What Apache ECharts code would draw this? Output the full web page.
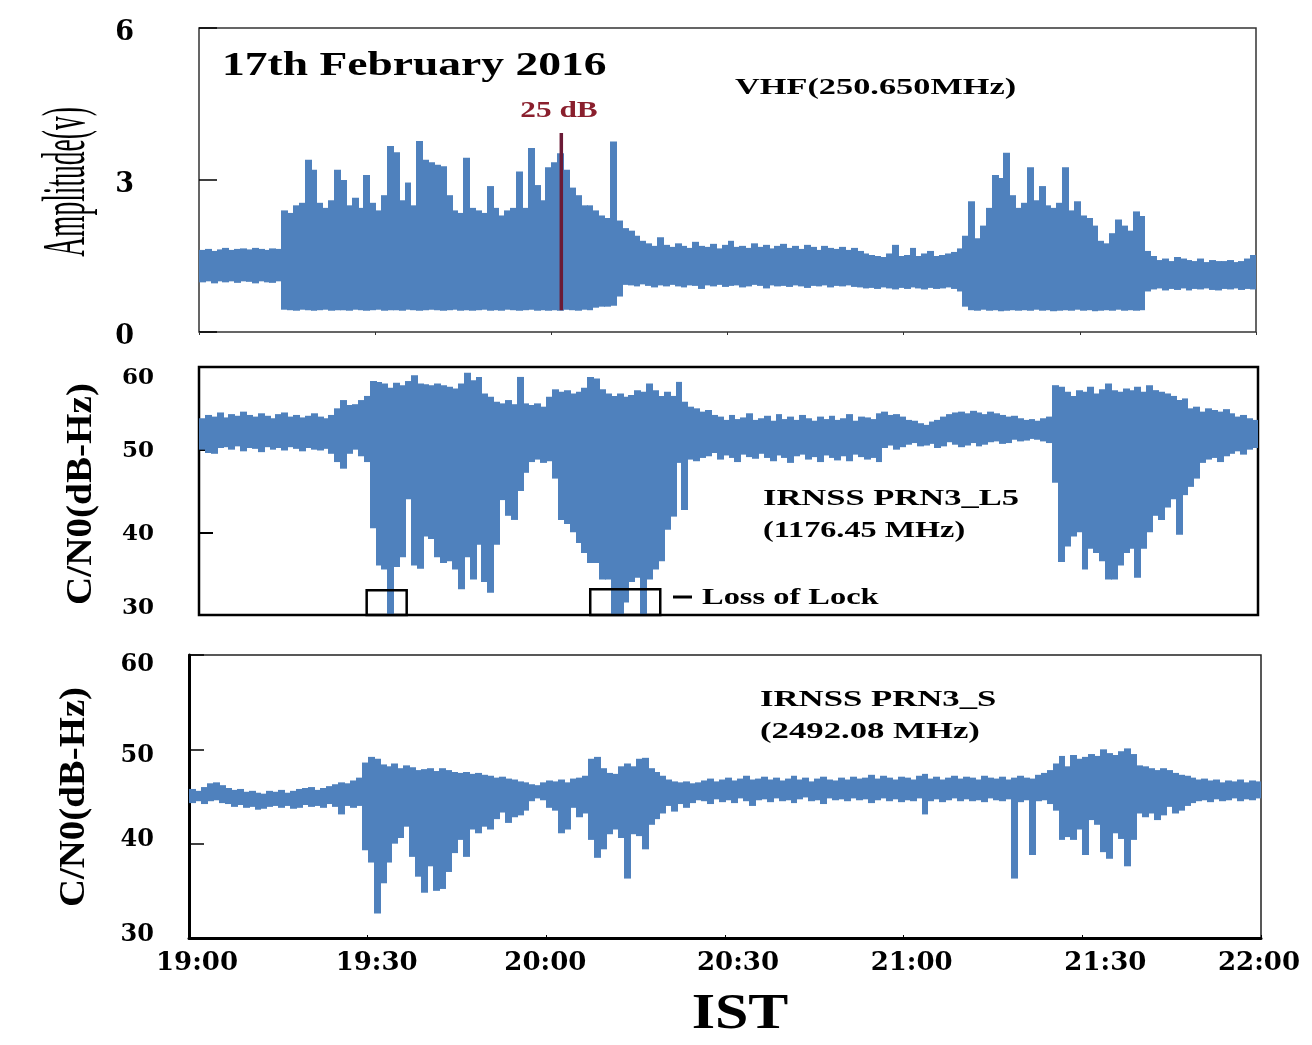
<!DOCTYPE html>
<html>
<head>
<meta charset="utf-8">
<title>17th February 2016 - VHF and IRNSS C/N0</title>
<script src="https://cdn.jsdelivr.net/npm/echarts@6/dist/echarts.min.js"></script>
<style>
  html, body { margin: 0; padding: 0; background: #fff; }
  #chart { width: 1312px; height: 1045px; }
</style>
</head>
<body>
<div id="chart"></div>
<script>
// x = minutes after 19:00 IST, one bin per minute (0..179)
const timeLabels = ['19:00', '19:30', '20:00', '20:30', '21:00', '21:30', '22:00'];

// VHF (250.650 MHz) amplitude, upper / lower envelope per minute (V)
const vhfHi = [
  1.62,1.64,1.60,1.63,1.66,1.62,1.64,1.65,1.63,1.66,
  1.64,1.62,1.65,1.64,2.40,2.35,2.50,2.55,3.40,3.20,
  2.55,2.45,2.60,3.20,3.00,2.50,2.65,2.45,3.10,2.55,
  2.40,2.70,3.67,3.55,2.60,2.95,2.50,3.77,3.40,3.35,
  3.30,3.27,2.70,2.40,2.35,3.44,2.45,2.40,2.35,2.88,
  2.45,2.30,2.40,2.45,3.17,2.45,3.63,2.90,2.60,3.25,
  3.35,3.53,3.20,2.85,2.70,2.50,2.50,2.40,2.30,2.25,
  3.76,2.20,2.05,2.00,1.90,1.80,1.75,1.70,1.87,1.72,
  1.68,1.75,1.70,1.66,1.78,1.70,1.68,1.74,1.65,1.72,
  1.80,1.68,1.70,1.66,1.75,1.68,1.72,1.65,1.70,1.74,
  1.66,1.70,1.64,1.72,1.68,1.62,1.70,1.66,1.64,1.68,
  1.62,1.66,1.60,1.55,1.52,1.50,1.48,1.55,1.72,1.50,
  1.52,1.66,1.50,1.55,1.60,1.50,1.52,1.55,1.58,1.65,
  1.90,2.58,1.85,2.10,2.45,3.10,3.04,3.54,2.70,2.45,
  2.55,3.25,2.60,2.88,2.50,2.45,2.55,3.25,2.40,2.58,
  2.30,2.25,2.10,1.80,1.75,1.95,2.22,2.10,2.00,2.38,
  2.29,1.60,1.50,1.42,1.45,1.40,1.48,1.45,1.42,1.40,
  1.45,1.38,1.42,1.40,1.40,1.42,1.38,1.40,1.45,1.52
];
const vhfLo = [
  0.98,1.00,0.96,1.00,0.98,1.00,0.97,1.00,0.99,0.96,
  1.00,0.98,0.97,1.00,0.44,0.43,0.42,0.44,0.43,0.42,
  0.43,0.44,0.42,0.43,0.43,0.42,0.44,0.43,0.42,0.43,
  0.44,0.42,0.43,0.43,0.42,0.44,0.43,0.42,0.43,0.44,
  0.43,0.42,0.43,0.44,0.42,0.43,0.42,0.43,0.44,0.42,
  0.43,0.42,0.44,0.43,0.42,0.43,0.44,0.42,0.43,0.42,
  0.43,0.42,0.44,0.43,0.42,0.44,0.43,0.48,0.50,0.50,
  0.52,0.70,0.93,0.92,0.90,0.94,0.91,0.88,0.92,0.90,
  0.93,0.90,0.88,0.92,0.91,0.85,0.92,0.90,0.93,0.89,
  0.91,0.92,0.88,0.90,0.93,0.91,0.86,0.92,0.90,0.91,
  0.89,0.92,0.90,0.87,0.91,0.90,0.92,0.88,0.91,0.90,
  0.92,0.89,0.88,0.86,0.87,0.85,0.88,0.86,0.84,0.87,
  0.85,0.88,0.86,0.84,0.87,0.85,0.86,0.88,0.85,0.80,
  0.50,0.43,0.42,0.44,0.42,0.43,0.41,0.42,0.43,0.42,
  0.43,0.42,0.44,0.42,0.43,0.41,0.42,0.43,0.42,0.44,
  0.42,0.43,0.41,0.42,0.43,0.42,0.44,0.42,0.43,0.42,
  0.43,0.80,0.84,0.86,0.82,0.85,0.83,0.86,0.82,0.85,
  0.84,0.86,0.83,0.82,0.85,0.84,0.86,0.83,0.85,0.84
];

// IRNSS PRN3 L5 (1176.45 MHz) C/N0, upper / lower envelope per minute (dB-Hz)
const l5Hi = [
  53.8,54.2,54.0,54.5,53.9,54.3,54.1,54.6,54.2,54.0,
  54.4,54.1,53.8,54.3,54.5,54.0,54.2,53.9,54.1,54.4,
  54.0,53.8,54.2,55.0,56.0,55.4,55.5,56.0,56.5,58.3,
  58.2,58.0,57.5,58.1,57.8,58.3,59.0,58.0,57.9,57.8,
  58.0,57.8,57.6,57.4,58.0,59.3,58.4,58.8,56.8,56.4,
  55.8,55.6,56.0,55.5,58.8,55.6,55.4,55.6,55.2,56.4,
  57.3,57.0,57.2,56.8,57.0,57.5,58.8,58.6,57.3,56.8,
  56.5,56.8,56.4,56.6,57.2,57.0,58.0,57.2,56.5,57.0,
  56.5,58.2,55.8,55.2,55.0,54.6,54.8,54.2,54.0,53.6,
  54.2,53.7,53.9,54.4,53.6,53.8,54.1,53.5,54.3,53.7,
  54.0,53.6,54.2,53.8,53.5,54.0,53.7,54.1,53.6,53.8,
  54.3,53.5,54.0,53.9,53.7,54.4,54.6,54.2,54.3,54.0,
  53.6,53.5,53.2,53.0,53.4,53.6,54.0,54.3,54.5,54.6,
  54.4,54.7,54.5,54.3,54.6,54.4,54.2,54.0,54.1,53.8,
  53.6,53.7,53.5,53.8,54.0,57.8,57.6,57.0,56.5,57.2,
  57.0,57.6,56.8,57.3,58.0,57.2,57.0,57.4,57.2,57.6,
  57.0,57.8,57.2,57.0,56.8,56.5,56.0,56.2,55.0,55.2,
  54.6,55.0,54.8,54.6,54.9,54.4,54.0,54.2,53.8,53.6
];
const l5Lo = [
  50.0,49.6,49.5,50.2,50.3,50.0,50.4,49.8,50.2,50.1,
  49.7,50.3,50.0,50.2,49.9,50.3,50.1,49.8,50.2,50.0,
  49.9,50.1,49.5,48.5,47.7,49.5,50.0,49.2,48.5,40.5,
  36.0,35.5,30.0,35.8,37.0,44.0,36.0,35.6,39.5,39.2,
  37.0,36.3,36.5,35.5,33.1,37.0,34.3,38.5,34.0,32.7,
  38.5,43.9,42.0,41.5,45.0,47.2,48.5,48.8,48.4,48.6,
  46.5,41.5,41.0,40.0,38.7,37.5,36.3,36.3,34.3,34.3,
  30.0,30.0,31.5,34.0,34.5,30.0,34.3,35.5,36.5,40.3,
  41.9,48.4,42.7,48.8,48.6,49.0,49.2,49.6,48.8,49.3,
  49.0,48.5,49.4,49.1,48.9,49.5,49.0,48.6,49.3,49.0,
  48.4,49.2,49.4,48.8,49.1,48.5,49.3,49.0,48.7,49.2,
  48.6,49.4,49.1,48.8,49.0,48.5,50.2,50.5,50.0,50.3,
  50.6,50.8,50.4,50.5,50.7,50.2,50.4,50.9,50.6,50.3,
  50.5,50.8,50.4,50.6,50.9,51.0,50.7,50.8,51.2,51.0,
  51.1,51.3,51.2,51.0,50.8,46.0,36.4,38.3,39.5,40.0,
  35.5,38.0,37.5,36.5,34.3,34.3,36.0,37.5,38.0,34.5,
  38.0,40.0,42.0,41.5,43.0,44.0,39.7,44.5,45.5,46.5,
  48.4,48.8,49.0,48.5,49.2,49.5,49.8,49.4,50.0,50.2
];

// IRNSS PRN3 S (2492.08 MHz) C/N0, upper / lower envelope per minute (dB-Hz)
const sHi = [
  45.8,45.6,46.0,46.4,46.5,46.2,45.9,45.7,45.8,45.5,
  45.6,45.4,45.3,45.6,45.5,45.7,45.4,45.6,45.8,45.9,
  46.0,45.7,45.9,46.1,46.3,46.5,46.4,46.7,47.0,48.6,
  49.2,49.0,48.4,48.2,48.5,48.0,48.3,48.1,47.8,47.9,
  48.0,47.7,48.0,47.8,47.6,47.5,47.6,47.4,47.5,47.3,
  47.2,47.0,47.1,46.9,46.8,46.6,46.5,46.3,46.2,46.5,
  46.7,46.6,46.8,46.5,46.9,47.0,47.2,49.0,49.2,48.0,
  47.5,47.4,48.2,48.5,48.2,49.0,49.1,48.0,47.6,47.2,
  46.8,46.6,46.5,46.6,46.4,46.5,46.7,46.9,46.6,46.8,
  47.0,46.7,46.9,47.2,46.8,46.9,47.1,46.8,47.0,46.7,
  46.9,47.2,46.8,47.0,46.6,46.9,47.1,46.8,46.7,47.0,
  46.8,47.1,46.9,47.0,47.3,46.9,47.2,47.0,46.8,47.1,
  47.0,46.8,47.2,47.4,46.9,47.1,46.8,47.0,47.2,46.9,
  47.1,47.0,46.8,47.2,47.0,46.9,47.1,46.8,47.0,47.2,
  47.0,46.9,47.3,47.5,47.8,48.5,49.3,48.2,49.4,49.0,
  49.2,49.5,49.3,50.0,49.6,49.4,49.8,50.1,49.5,48.3,
  48.2,48.0,47.8,48.0,47.8,47.5,47.3,47.2,47.0,46.8,
  46.9,46.7,46.8,46.5,46.7,46.6,46.8,46.5,46.7,46.6
];
const sLo = [
  44.3,44.5,44.2,44.5,44.6,44.3,44.2,43.9,44.1,43.8,
  43.9,43.6,43.7,43.9,44.0,43.8,44.0,43.7,43.8,44.1,
  43.9,44.0,43.8,44.2,43.9,43.1,44.0,43.8,44.0,39.3,
  38.0,32.6,35.8,38.0,40.0,40.6,41.8,38.6,36.5,34.8,
  37.6,35.0,35.2,37.0,39.0,40.4,38.6,41.5,41.1,41.8,
  41.5,42.6,43.3,42.2,42.8,43.0,43.5,44.5,44.8,44.6,
  43.8,43.5,41.1,41.5,43.8,42.8,43.2,40.4,38.5,39.4,
  41.0,41.5,40.6,36.3,41.0,40.8,39.4,42.0,42.6,43.2,
  44.0,43.4,44.2,43.8,44.3,44.6,44.5,44.2,44.7,44.4,
  44.6,44.3,44.8,44.5,44.0,44.6,44.7,44.4,44.8,44.5,
  44.6,44.3,44.7,44.9,44.5,44.6,44.2,44.8,44.6,44.7,
  44.5,44.8,44.6,44.7,44.3,44.6,44.8,44.5,44.7,44.4,
  44.6,44.5,44.8,43.1,44.5,44.7,44.4,44.6,44.8,44.5,
  44.7,44.5,44.6,44.4,44.8,44.6,44.5,44.7,36.3,44.4,
  44.6,38.8,44.5,44.6,44.2,43.5,40.4,40.7,40.4,41.5,
  38.8,42.5,42.0,39.1,38.4,41.1,40.5,37.6,40.4,43.2,
  42.8,43.2,42.5,43.0,43.9,43.2,43.5,44.0,44.3,44.5,
  44.6,44.4,44.7,44.5,44.6,44.8,44.5,44.7,44.6,44.8
];

// "25 dB" marker on the VHF panel: [minute, amplitude]
const marker25dB = [[61.7, 0.43], [61.7, 3.93]];
// loss of lock on L5: [start minute, end minute, box top dB-Hz]
const lossOfLock = [[28.5, 35.3, 33.0], [66.5, 78.4, 33.1]];

// the time labels in the original sit a little off the even spacing (px)
const xLabelShift = [8, 9, -1, 13, 8, 23, -2];

const BLUE = '#4f81bd';
const chart = echarts.init(document.getElementById('chart'));

const bins = (lo, hi) => lo.map((v, i) => [i, v, hi[i]]);

function envelope(idx, lo, hi) {
  return {
    type: 'custom',
    xAxisIndex: idx,
    yAxisIndex: idx,
    clip: true,
    silent: true,
    data: bins(lo, hi),
    encode: { x: 0, y: [1, 2] },
    renderItem: (params, api) => {
      const a = api.coord([api.value(0), api.value(2)]);
      const b = api.coord([api.value(0) + 1, api.value(1)]);
      const x0 = Math.round(a[0]);
      const x1 = Math.round(b[0]);
      return {
        type: 'rect',
        shape: { x: x0, y: a[1], width: x1 - x0 + 1, height: b[1] - a[1] },
        style: { fill: BLUE }
      };
    }
  };
}

const serif = '"Liberation Serif", "Times New Roman", serif';
const tickFont = { fontFamily: 'DejaVu Serif', fontWeight: 'bold', color: '#000' };

function txt(text, x, y, size, o = {}) {
  return {
    type: 'text',
    x, y,
    rotation: o.rot || 0,
    scaleX: o.sx || 1,
    scaleY: o.sy || 1,
    z: 100,
    style: {
      text,
      fill: o.color || '#000',
      fontSize: size,
      fontFamily: serif,
      fontWeight: o.weight || 'bold',
      align: o.align || 'left',
      verticalAlign: 'middle',
      textAlign: o.align || 'left',
      textVerticalAlign: 'middle'
    }
  };
}

function xAxis(idx, extra) {
  return Object.assign({
    type: 'value', gridIndex: idx, min: 0, max: 180, interval: 30,
    splitLine: { show: false },
    axisLine: { show: false },
    axisTick: { show: false },
    axisLabel: { show: false }
  }, extra);
}

const timeRich = {};
xLabelShift.forEach((d, i) => {
  timeRich['s' + i] = Object.assign({
    fontSize: 26,
    padding: d >= 0 ? [0, 0, 0, 2 * d] : [0, -2 * d, 0, 0]
  }, tickFont);
});

const option = {
  animation: false,
  backgroundColor: '#fff',
  grid: [
    { left: 199, top: 28, width: 1057, height: 304, show: true, borderColor: '#333', borderWidth: 1.5, outerBoundsMode: 'none' },
    { left: 199, top: 367, width: 1059, height: 248, show: true, borderColor: '#000', borderWidth: 2.5, outerBoundsMode: 'none' },
    { left: 189, top: 655, width: 1072, height: 283, show: true, borderColor: '#222', borderWidth: 1.5, outerBoundsMode: 'none' }
  ],
  xAxis: [
    xAxis(0, { axisTick: { show: true, length: 3, lineStyle: { color: '#333' } } }),
    xAxis(1),
    xAxis(2, {
      axisLine: { show: true, onZero: false, lineStyle: { color: '#000', width: 3 } },
      axisTick: { show: true, inside: true, length: 3, lineStyle: { color: '#000' } },
      axisLabel: Object.assign({
        show: true, fontSize: 26, margin: 12,
        formatter: (v) => {
          const i = Math.round(v / 30);
          return '{s' + i + '|' + timeLabels[i] + '}';
        },
        rich: timeRich
      }, tickFont)
    })
  ],
  yAxis: [
    {
      type: 'value', gridIndex: 0, min: 0, max: 6, interval: 3,
      splitLine: { show: false },
      axisLine: { show: false },
      axisTick: { show: true, inside: true, length: 18, lineStyle: { color: '#000', width: 1.5 } },
      axisLabel: Object.assign({
        fontSize: 27, margin: 65,
        formatter: (v) => '{a|' + v + '}',
        rich: { a: Object.assign({ fontSize: 27, padding: [10, 0, 0, 0] }, tickFont) }
      }, tickFont)
    },
    {
      type: 'value', gridIndex: 1, min: 30, max: 60, interval: 10,
      splitLine: { show: false },
      axisLine: { show: false },
      axisTick: { show: true, inside: true, length: 14, lineStyle: { color: '#000', width: 2 } },
      axisLabel: Object.assign({
        fontSize: 23, margin: 45,
        formatter: (v) => v === 60 ? '{top|60}' : v === 30 ? '{bot|30}' : '{mid|' + v + '}',
        rich: {
          top: Object.assign({ fontSize: 23, padding: [22, 0, 0, 0] }, tickFont),
          mid: Object.assign({ fontSize: 23, padding: [3, 0, 0, 0] }, tickFont),
          bot: Object.assign({ fontSize: 23, padding: [0, 0, 14, 0] }, tickFont)
        }
      }, tickFont)
    },
    {
      type: 'value', gridIndex: 2, min: 30, max: 60, interval: 10,
      splitLine: { show: false },
      axisLine: { show: true, onZero: false, lineStyle: { color: '#000', width: 3 } },
      axisTick: { show: true, inside: true, length: 15, lineStyle: { color: '#000', width: 1.5 } },
      axisLabel: Object.assign({
        fontSize: 24, margin: 35,
        formatter: (v) => v === 60 ? '{top|60}' : v === 50 ? '{mid|50}' : '{low|' + v + '}',
        rich: {
          top: Object.assign({ fontSize: 24, padding: [20, 0, 0, 0] }, tickFont),
          mid: Object.assign({ fontSize: 24, padding: [12, 0, 0, 0] }, tickFont),
          low: Object.assign({ fontSize: 24, padding: [0, 0, 7, 0] }, tickFont)
        }
      }, tickFont)
    }
  ],
  series: [
    envelope(0, vhfLo, vhfHi),
    envelope(1, l5Lo, l5Hi),
    envelope(2, sLo, sHi),
    {
      type: 'line',
      xAxisIndex: 0, yAxisIndex: 0,
      data: marker25dB,
      symbol: 'none',
      silent: true,
      z: 5,
      lineStyle: { color: '#6b1b36', width: 3.5 }
    },
    {
      type: 'custom',
      xAxisIndex: 1, yAxisIndex: 1,
      silent: true,
      z: 6,
      data: lossOfLock,
      encode: { x: [0, 1], y: 2 },
      renderItem: (params, api) => {
        const a = api.coord([api.value(0), api.value(2)]);
        const b = api.coord([api.value(1), 30]);
        return {
          type: 'rect',
          shape: { x: a[0], y: a[1], width: b[0] - a[0], height: b[1] - a[1] },
          style: { fill: 'none', stroke: '#000', lineWidth: 2.5 }
        };
      }
    }
  ],
  graphic: [
    txt('17th February 2016', 222, 66, 33, { sx: 1.38 }),
    txt('VHF(250.650MHz)', 735, 88, 24, { sx: 1.43 }),
    txt('25 dB', 559, 111, 23, { sx: 1.36, align: 'center', color: '#8a1f2d' }),
    txt('Amplitude(v)', 68, 182, 27.5, { rot: Math.PI / 2, sy: 2.2, align: 'center', weight: 'normal' }),
    txt('C/N0(dB-Hz)', 82, 494, 35, { rot: Math.PI / 2, sx: 1.12, align: 'center' }),
    txt('IRNSS PRN3_L5', 763, 499, 23, { sx: 1.5 }),
    txt('(1176.45 MHz)', 763, 531, 23, { sx: 1.4 }),
    {
      type: 'line', z: 100,
      shape: { x1: 673, y1: 597, x2: 692, y2: 597 },
      style: { stroke: '#000', lineWidth: 3 }
    },
    txt('Loss of Lock', 702, 598, 23, { sx: 1.41 }),
    txt('C/N0(dB-Hz)', 75, 797, 35, { rot: Math.PI / 2, sx: 1.11, align: 'center' }),
    txt('IRNSS PRN3_S', 760, 700, 23, { sx: 1.51 }),
    txt('(2492.08 MHz)', 760, 732, 23, { sx: 1.51 }),
    txt('IST', 740, 1015, 50, { sx: 1.2, align: 'center' })
  ]
};

chart.setOption(option);
window.addEventListener('resize', () => chart.resize());
</script>
</body>
</html>
